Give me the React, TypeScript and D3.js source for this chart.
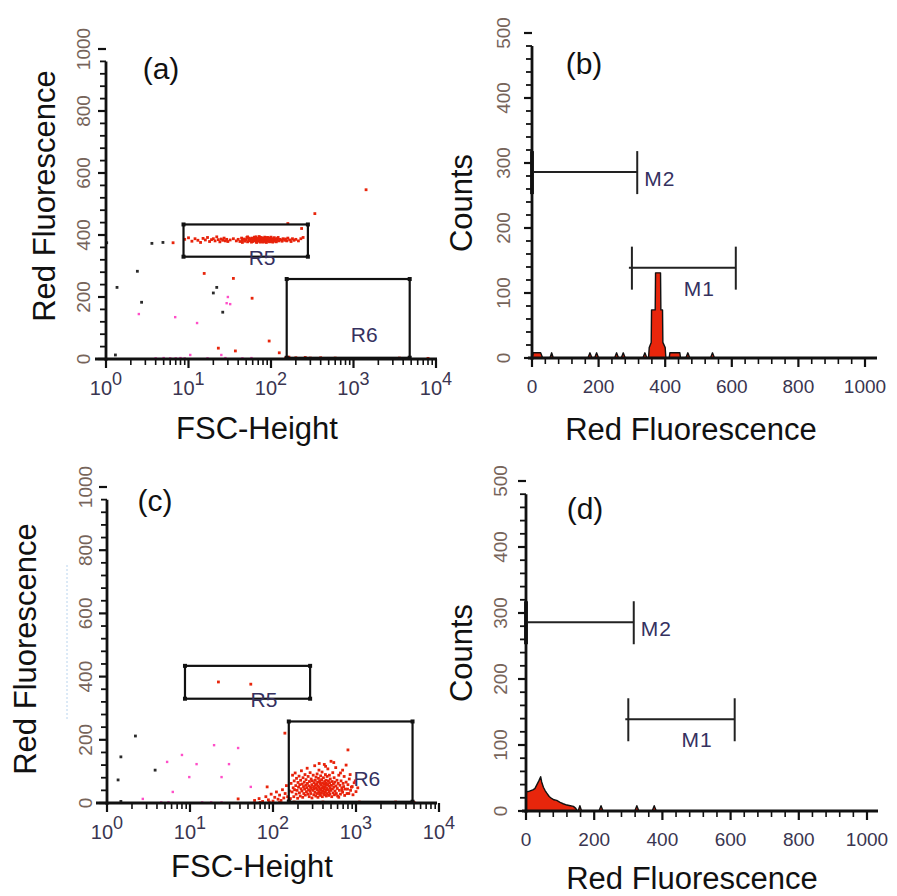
import React from 'react';
import * as d3 from 'd3';

const FONT = '"Liberation Sans", Arial, Helvetica, sans-serif';

type Pt = [number, number];

// ---- shared axis labels
const dotYTicks = [0, 200, 400, 600, 800, 1000];
const logDecades = [0, 1, 2, 3, 4];
const histYTicks = [0, 100, 200, 300, 400, 500];
const histXTicks = [0, 200, 400, 600, 800, 1000];

// ---- gates (FSC-Height, Red Fluorescence)
const gateR5 = { name: 'R5', x: [8.7, 280], y: [330, 434], label: [78, 330] };
const gateR6 = { name: 'R6', x: [155, 4800], y: [4, 258], label: [1350, 80] };

// ---- markers (Red Fluorescence range, count level)
const markerM1 = { name: 'M1', range: [300, 612], level: 139 };
const markerM2 = { name: 'M2', range: [0, 316], level: 286 };

// ---- panel (a) events
const clusterA: Pt[] = [
  [32, 384], [35, 388], [38, 381], [40, 386], [42, 379], [44, 390], [45, 384], [47, 387], [48, 380], [50, 385],
  [51, 392], [52, 378], [54, 383], [55, 388], [56, 381], [58, 386], [59, 390], [60, 379], [61, 384], [62, 387],
  [63, 382], [64, 391], [65, 385], [66, 378], [67, 388], [68, 383], [69, 386], [70, 380], [71, 389], [72, 384],
  [73, 392], [74, 381], [75, 386], [76, 379], [77, 388], [78, 383], [79, 385], [80, 390], [81, 382], [82, 387],
  [83, 380], [84, 384], [85, 389], [86, 378], [87, 386], [88, 383], [89, 391], [90, 385], [91, 380], [92, 388],
  [94, 383], [95, 386], [97, 381], [98, 389], [100, 384], [102, 379], [104, 387], [106, 382], [108, 390], [110, 385],
  [112, 380], [115, 386], [118, 383], [120, 389], [124, 381], [128, 386], [132, 384], [136, 380], [140, 388], [146, 383],
  [9, 386], [10, 391], [11, 380], [12, 388], [13, 383], [14, 376], [15, 389], [16, 384], [17, 392], [18, 379],
  [19, 385], [20, 388], [21, 381], [22, 394], [23, 385], [24, 378], [25, 387], [26, 383], [27, 390], [28, 381],
  [29, 386], [30, 379], [150, 387], [155, 381], [160, 390], [168, 384], [175, 379], [182, 388], [190, 383], [200, 386],
  [215, 381], [230, 388], [245, 392], [45, 376], [52, 394], [58, 377], [63, 393], [67, 376], [72, 395], [76, 392],
  [80, 377], [84, 393], [88, 376], [92, 392], [96, 378], [100, 393], [105, 377], [110, 391], [116, 378], [122, 392],
  [60, 389], [70, 388], [78, 381], [86, 391], [94, 389], [54, 390], [66, 394], [74, 377],
];
const redA: Pt[] = [
  [6.5, 375], [15.5, 276], [35, 260], [59, 196], [95, 58], [23, 35], [37, 26], [126, 20], [160, 437], [235, 421],
  [340, 469], [1420, 546], [150, 3], [165, 6], [180, 2], [200, 4], [230, 2], [260, 5], [300, 3], [350, 2],
  [400, 4], [500, 2], [600, 3], [3600, 3], [8000, 2],
];
const pinkA: Pt[] = [
  [2.5, 145], [6.9, 135], [12.7, 116], [30, 200], [29, 180], [32, 177], [10.5, 13], [25, 13], [58, 3],
  [4, 2], [5, 3], [6, 2], [7, 2], [8, 3], [9, 2], [17, 2], [28, 3], [45, 2],
];
const blackA: Pt[] = [
  [3.6, 373], [4.9, 376], [1.02, 375], [2.4, 283], [1.36, 231], [2.7, 183], [22, 231], [20, 213], [26, 151], [1.3, 13],
];

// ---- panel (c) events
const clusterC: Pt[] = [
  [165, 62], [170, 35], [172, 88], [175, 48], [178, 20], [180, 70], [182, 42], [185, 95], [188, 55], [190, 28],
  [192, 78], [195, 40], [198, 15], [200, 65], [203, 50], [206, 85], [208, 32], [210, 58], [213, 22], [215, 72],
  [218, 45], [220, 102], [223, 38], [225, 60], [228, 18], [230, 80], [233, 52], [235, 30], [238, 66], [240, 44],
  [243, 90], [245, 25], [248, 56], [250, 74], [253, 36], [255, 48], [258, 110], [260, 62], [263, 28], [265, 84],
  [268, 42], [270, 54], [273, 20], [275, 68], [278, 38], [280, 96], [283, 50], [285, 30], [288, 76], [290, 46],
  [293, 58], [295, 16], [298, 70], [300, 40], [305, 88], [308, 52], [310, 26], [313, 64], [315, 44], [318, 118],
  [320, 34], [323, 72], [325, 56], [328, 22], [330, 82], [333, 48], [335, 60], [338, 30], [340, 92], [343, 42],
  [345, 66], [348, 18], [350, 54], [353, 78], [355, 36], [358, 104], [360, 50], [363, 28], [365, 70], [368, 44],
  [370, 62], [373, 24], [375, 86], [378, 40], [380, 58], [383, 32], [385, 74], [388, 48], [390, 98], [393, 20],
  [395, 64], [398, 38], [400, 52], [405, 80], [408, 30], [410, 60], [413, 44], [415, 122], [418, 26], [420, 68],
  [423, 50], [425, 34], [428, 90], [430, 56], [433, 40], [435, 72], [438, 22], [440, 62], [445, 46], [448, 84],
  [450, 30], [455, 58], [458, 108], [460, 42], [465, 70], [468, 24], [470, 54], [475, 36], [478, 88], [480, 64],
  [485, 28], [488, 48], [490, 76], [495, 40], [500, 132], [505, 56], [510, 20], [515, 68], [520, 44], [525, 96],
  [530, 32], [535, 60], [540, 50], [545, 80], [550, 26], [555, 66], [560, 38], [570, 112], [575, 54], [580, 30],
  [590, 72], [595, 46], [600, 22], [610, 62], [620, 88], [630, 40], [640, 56], [650, 28], [660, 70], [675, 48],
  [690, 34], [700, 62], [720, 84], [740, 44], [760, 120], [780, 30], [800, 58], [830, 76], [860, 40], [900, 52],
  [950, 64], [1000, 36], [60, 8], [68, 14], [75, 5], [82, 20], [88, 10], [95, 28], [100, 6], [105, 18],
  [110, 35], [115, 12], [120, 25], [125, 8], [130, 42], [135, 16], [140, 30], [145, 55], [150, 20], [155, 10],
  [158, 38], [162, 14], [70, 2], [90, 3], [120, 2], [180, 3], [250, 2], [400, 3], [700, 2], [1100, 3],
  [2000, 2], [3000, 3], [5000, 2], [620, 18], [650, 95], [680, 40], [710, 52], [730, 24], [760, 66], [790, 44],
  [820, 30], [850, 90], [880, 50], [920, 26], [980, 70], [540, 128], [430, 116], [360, 125], [690, 104], [1050, 48],
];
const redC: Pt[] = [[22, 383], [54, 376], [139, 221], [800, 168], [38, 13], [85, 51]];
const pinkC: Pt[] = [
  [5.3, 130], [8, 152], [12, 123], [9.8, 82], [6.2, 35], [19.5, 183], [38, 174], [29.5, 123], [24, 82], [54, 51],
  [2.7, 13], [4.5, 2], [5.5, 2], [14, 2], [18, 2], [24, 2],
];
const blackC: Pt[] = [[2.2, 212], [1.47, 146], [1.36, 73], [3.8, 104], [1.47, 5]];

// ---- histograms (Red Fluorescence channel, counts)
const histB: Pt[] = [
  [0, 0], [4, 8], [12, 8], [26, 8], [32, 0],
  [54, 0], [59, 8], [64, 0],
  [168, 0], [174, 8], [180, 0],
  [188, 0], [194, 8], [200, 0],
  [248, 0], [254, 8], [260, 0],
  [268, 0], [274, 8], [280, 0],
  [333, 0], [339, 8], [345, 0],
  [350, 0], [352, 16], [358, 24], [359, 74], [370, 74], [371, 131], [386, 131], [387, 74], [392, 74], [393, 24], [400, 16], [402, 0],
  [412, 0], [414, 8], [444, 8], [446, 0],
  [462, 0], [468, 8], [474, 0],
  [536, 0], [542, 8], [548, 0],
];
const histD: Pt[] = [
  [0, 0], [0.5, 29], [10, 30], [20, 32], [26, 34], [32, 40], [38, 46], [43, 52], [46, 44], [51, 36],
  [56, 31], [61, 27], [68, 22], [75, 19], [82, 17], [90, 16], [100, 13], [109, 11], [120, 9], [130, 8],
  [139, 7], [146, 4], [150, 0],
  [153, 0], [158, 8], [163, 0],
  [214, 0], [220, 8], [226, 0],
  [319, 0], [325, 8], [331, 0],
  [370, 0], [376, 8], [382, 0],
];

const AXIS = '#111';
const TICK_Y = '#76645a';
const TICK_X = '#3a3550';
const GATE_TXT = '#35315f';

type Frame = {
  x0: number; x1: number; y0: number; y1: number;
  yLabX: number; axFrom: number; axTo: number;
  tag: [number, number]; yTitle: [number, number]; xTitle: [number, number];
};

const frameA: Frame = { x0: 106, x1: 436, y0: 359, y1: 49, yLabX: 90, axFrom: 95, axTo: 437, tag: [161, 79], yTitle: [55, 196], xTitle: [257, 439] };
const frameC: Frame = { x0: 107, x1: 439, y0: 803, y1: 487, yLabX: 92, axFrom: 96, axTo: 437, tag: [155, 511], yTitle: [36, 649], xTitle: [252, 877] };
const frameB: Frame = { x0: 532, x1: 865, y0: 358, y1: 33, yLabX: 510, axFrom: 528, axTo: 877, tag: [584, 74], yTitle: [472, 203], xTitle: [691, 440] };
const frameD: Frame = { x0: 526, x1: 867, y0: 811, y1: 481, yLabX: 507, axFrom: 522, axTo: 878, tag: [585, 519], yTitle: [472, 653], xTitle: [692, 889] };

function Titles({ f, tag, yTitle, xTitle }: { f: Frame; tag: string; yTitle: string; xTitle: string }) {
  return (
    <g fontFamily={FONT} fill="#111">
      <text x={f.tag[0]} y={f.tag[1]} fontSize={30} textAnchor="middle">{tag}</text>
      <text transform={`translate(${f.yTitle[0]},${f.yTitle[1]}) rotate(-90)`} fontSize={31} textAnchor="middle">{yTitle}</text>
      <text x={f.xTitle[0]} y={f.xTitle[1]} fontSize={31} textAnchor="middle">{xTitle}</text>
    </g>
  );
}

function YAxis({ f, y, max, step, labels }: { f: Frame; y: d3.ScaleLinear<number, number>; max: number; step: number; labels: number[] }) {
  const ticks = d3.range(0, max + 1, step);
  return (
    <g>
      <line x1={f.x0} x2={f.x0} y1={f.y0 + 2} y2={y(max * 0.96)} stroke={AXIS} strokeWidth={2.8} />
      {ticks.map((t) => {
        const major = labels.includes(t);
        return <line key={t} x1={f.x0 - (major ? 8 : 6)} x2={f.x0} y1={y(t)} y2={y(t)} stroke={AXIS} strokeWidth={major ? 2.2 : 1.8} />;
      })}
      {labels.map((t) => (
        <text key={t} transform={`translate(${f.yLabX},${y(t)}) rotate(-90)`} textAnchor="middle"
          fontFamily={FONT} fontSize={19} fill={TICK_Y}>{t}</text>
      ))}
    </g>
  );
}

function DotPanel({ f, tag, cluster, red, pink, black }: { f: Frame; tag: string; cluster: Pt[]; red: Pt[]; pink: Pt[]; black: Pt[] }) {
  const x = d3.scaleLog().domain([1, 10000]).range([f.x0, f.x1]);
  const y = d3.scaleLinear().domain([0, 1000]).range([f.y0, f.y1]);
  const logTicks = d3.range(0, 4).flatMap((d) => d3.range(1, 10).map((k) => k * 10 ** d)).concat([10000]);

  const dots = (pts: Pt[], color: string, s: number) =>
    pts.map((p, i) => (
      <rect key={i} x={x(p[0]) - s / 2} y={y(p[1]) - s / 2} width={s} height={s} fill={color} />
    ));

  const gate = (g: typeof gateR5) => {
    const gx0 = x(g.x[0]);
    const gx1 = x(g.x[1]);
    const gy0 = y(g.y[0]);
    const gy1 = y(g.y[1]);
    const corners: Pt[] = [[gx0, gy0], [gx0, gy1], [gx1, gy0], [gx1, gy1]];
    return (
      <g key={g.name}>
        <rect x={gx0} y={gy1} width={gx1 - gx0} height={gy0 - gy1} fill="none" stroke="#111" strokeWidth={2.2} />
        {corners.map((c, i) => <rect key={i} x={c[0] - 2} y={c[1] - 2} width={4} height={4} fill="#111" />)}
        <text x={x(g.label[0])} y={y(g.label[1]) + 8} textAnchor="middle" fontFamily={FONT} fontSize={21}
          fill={GATE_TXT}>{g.name}</text>
      </g>
    );
  };

  return (
    <g>
      {dots(pink, '#ff4fc8', 2.4)}
      {dots(black, '#2a2a2a', 2.8)}
      {dots(red, '#e8260c', 2.8)}
      {dots(cluster, '#e8220a', 2.8)}
      {gate(gateR5)}
      {gate(gateR6)}
      <YAxis f={f} y={y} max={1000} step={40} labels={dotYTicks} />
      <line x1={f.axFrom} x2={f.axTo} y1={f.y0} y2={f.y0} stroke={AXIS} strokeWidth={3} />
      {logTicks.map((t) => {
        const major = Number.isInteger(Math.log10(t));
        return <line key={t} x1={x(t)} x2={x(t)} y1={f.y0} y2={f.y0 + (major ? 9 : 6)} stroke={AXIS} strokeWidth={major ? 2.2 : 1.6} />;
      })}
      {logDecades.map((d) => (
        <text key={d} x={x(10 ** d)} y={f.y0 + 36} textAnchor="middle" fontFamily={FONT} fill={TICK_X}>
          <tspan fontSize={20}>10</tspan>
          <tspan fontSize={18} dy={-10}>{d}</tspan>
        </text>
      ))}
      <Titles f={f} tag={tag} yTitle="Red Fluorescence" xTitle="FSC-Height" />
    </g>
  );
}

function HistPanel({ f, tag, hist }: { f: Frame; tag: string; hist: Pt[] }) {
  const x = d3.scaleLinear().domain([0, 1000]).range([f.x0, f.x1]);
  const y = d3.scaleLinear().domain([0, 500]).range([f.y0, f.y1]);
  const area = d3.area<Pt>().x((d) => x(d[0])).y0(y(0)).y1((d) => y(d[1]));
  const outline = d3.line<Pt>().x((d) => x(d[0])).y((d) => y(d[1]));
  const xTicks = d3.range(0, 1001, 40);

  const marker = (m: typeof markerM1, labelInside: boolean) => {
    const lx = x(m.range[0]);
    const hx = x(m.range[1]);
    const ly = y(m.level);
    const first = m.range[0] === 0;
    return (
      <g key={m.name} stroke="#222">
        <line x1={first ? lx : lx - 3} x2={hx} y1={ly} y2={ly} strokeWidth={2} />
        <line x1={lx} x2={lx} y1={ly - 21} y2={ly + 22} strokeWidth={first ? 4 : 2} />
        <line x1={hx} x2={hx} y1={ly - 21} y2={ly + 22} strokeWidth={2} />
        <text stroke="none" fill={GATE_TXT} fontFamily={FONT} fontSize={21} letterSpacing={1}
          x={labelInside ? x((m.range[0] + m.range[1]) / 2) : hx + 7}
          y={labelInside ? ly + 28 : ly + 14}>{m.name}</text>
      </g>
    );
  };

  return (
    <g>
      <path d={area(hist) ?? ''} fill="#e8260c" />
      <path d={outline(hist) ?? ''} fill="none" stroke="#111" strokeWidth={1.4} strokeLinejoin="round" />
      {marker(markerM2, false)}
      {marker(markerM1, true)}
      <YAxis f={f} y={y} max={500} step={20} labels={histYTicks} />
      <line x1={f.axFrom} x2={f.axTo} y1={f.y0} y2={f.y0} stroke={AXIS} strokeWidth={3} />
      {xTicks.map((t) => {
        const major = histXTicks.includes(t);
        return <line key={t} x1={x(t)} x2={x(t)} y1={f.y0} y2={f.y0 + (major ? 9 : 6)} stroke={AXIS} strokeWidth={major ? 2.2 : 1.6} />;
      })}
      {histXTicks.map((t) => (
        <text key={t} x={x(t)} y={f.y0 + 35} textAnchor="middle" fontFamily={FONT} fontSize={19} fill={TICK_X}>{t}</text>
      ))}
      <Titles f={f} tag={tag} yTitle="Counts" xTitle="Red Fluorescence" />
    </g>
  );
}

export default function App() {
  return (
    <svg width={897} height={896} style={{ position: 'absolute', left: 0, top: 0, background: '#fff' }}>
      <rect width={897} height={896} fill="#fff" />
      <line x1={67} x2={67} y1={565} y2={720} stroke="#b9d4ee" strokeWidth={1} strokeDasharray="2,2" />
      <DotPanel f={frameA} tag="(a)" cluster={clusterA} red={redA} pink={pinkA} black={blackA} />
      <HistPanel f={frameB} tag="(b)" hist={histB} />
      <DotPanel f={frameC} tag="(c)" cluster={clusterC} red={redC} pink={pinkC} black={blackC} />
      <HistPanel f={frameD} tag="(d)" hist={histD} />
    </svg>
  );
}
